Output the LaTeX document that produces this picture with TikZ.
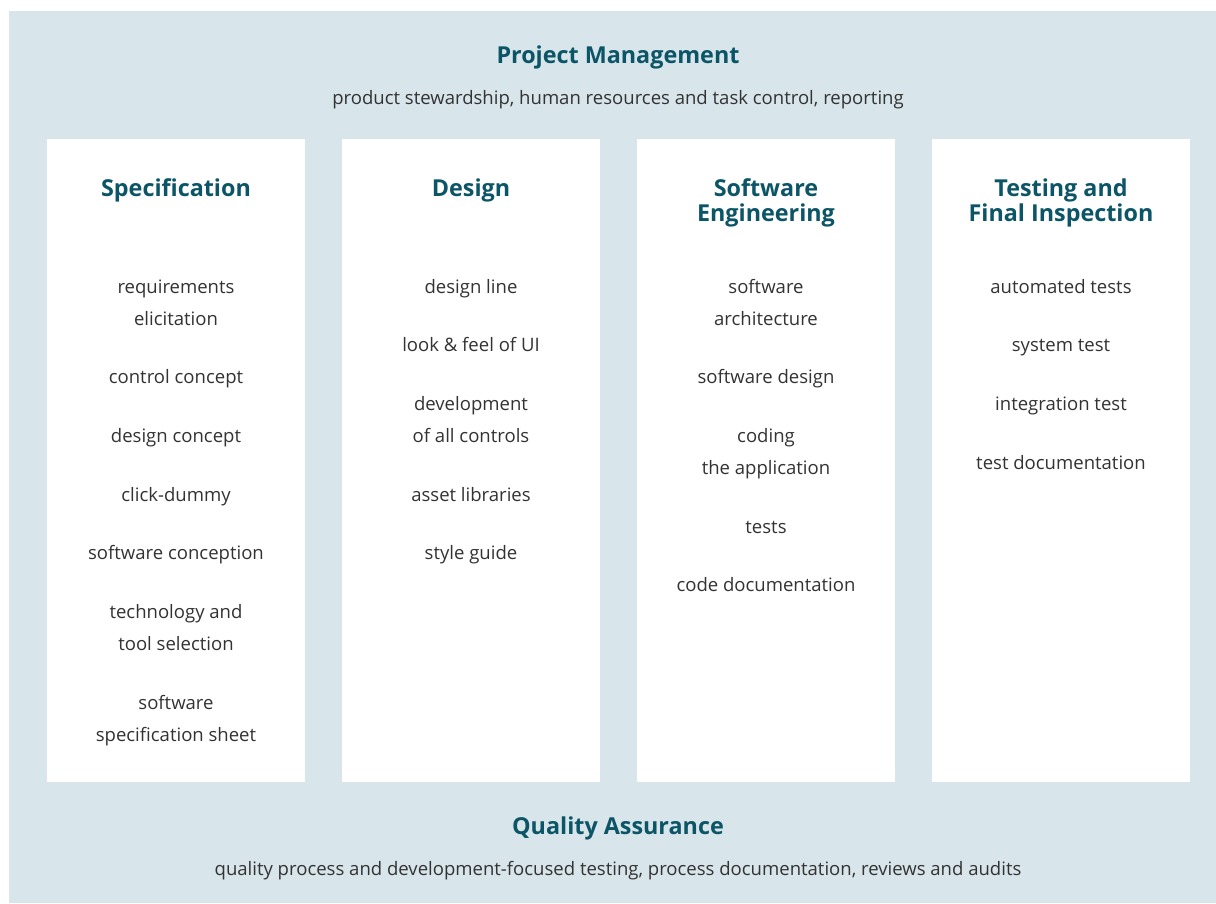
\documentclass[tikz,border=0pt]{standalone}
\usepackage{fontspec}
\setmainfont{Open Sans}
\usetikzlibrary{positioning}
\definecolor{panelblue}{HTML}{D8E5EB}
\definecolor{headteal}{HTML}{0B5566}
\definecolor{bodygray}{HTML}{333333}
\tikzstyle{column} = [fill=white, minimum width=193.5pt, minimum height=482.25pt, inner sep=0pt]
\tikzstyle{heading} = [text=headteal, font=\fontsize{17.5}{18.75}\selectfont\bfseries, align=center, inner sep=0pt, anchor=base]
\tikzstyle{title} = [heading]
\tikzstyle{item} = [text=bodygray, font=\fontsize{13.9}{24}\selectfont, align=center, inner sep=0pt, anchor=base]

\begin{document}
\begin{tikzpicture}[x=0.75pt, y=-0.75pt]
    \useasboundingbox (0,0) rectangle (1216,903);
    \fill [panelblue] (9,11) rectangle (1216,903);

    % Top and bottom bands.
    \node (pm) [title] at (618,63.5) {Project Management};
    \node (pmtext) [item] at (618,104.3) {product stewardship, human resources and task control, reporting};
    \node (qa) [title] at (618,834.5) {Quality Assurance};
    \node (qatext) [item] at (618,875.3) {quality process and development-focused testing, process documentation, reviews and audits};

    % Columns.
    \foreach\c/\x in {spec/176, design/471, soft/766, test/1061} {
        \node (\c) [column] at (\x,460.5) {};
    }

    \node (spechead) [heading] at (176,196.7) {Specification};
    \node (designhead) [heading] at (471,196.7) {Design};
    \node (softhead) [heading] at (766,221.7) {Software\\Engineering};
    \node (testhead) [heading] at (1061,221.7) {Testing and\\Final Inspection};

    % Items (baseline of the last line).
    \foreach\y/\t [count=\i] in {325.3/{requirements\\elicitation}, 383.3/{control concept},
            442.3/{design concept}, 501.3/{click-dummy}, 559.3/{software conception},
            650.3/{technology and\\tool selection}, 741.3/{software\\specification sheet}} {
        \node (spec\i) [item] at (176,\y) {\t};
    }
    \foreach\y/\t [count=\i] in {293.3/{design line}, 351.3/{look \& feel of UI},
            442.3/{development\\of all controls}, 501.3/{asset libraries}, 559.3/{style guide}} {
        \node (design\i) [item] at (471,\y) {\t};
    }
    \foreach\y/\t [count=\i] in {325.3/{software\\architecture}, 383.3/{software design},
            474.3/{coding\\the application}, 533.3/{tests}, 591.3/{code documentation}} {
        \node (soft\i) [item] at (766,\y) {\t};
    }
    \foreach\y/\t [count=\i] in {293.3/{automated tests}, 351.3/{system test},
            410.3/{integration test}, 469.3/{test documentation}} {
        \node (test\i) [item] at (1061,\y) {\t};
    }
\end{tikzpicture}
\end{document}
